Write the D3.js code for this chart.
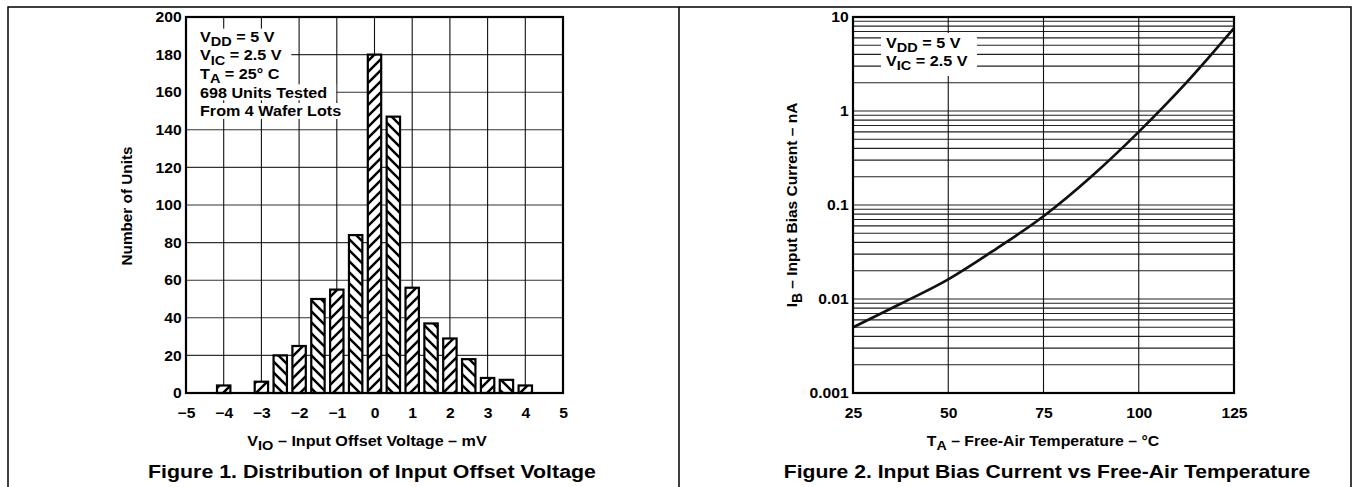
<!DOCTYPE html>
<html>
<head>
<meta charset="utf-8">
<script src="https://cdn.jsdelivr.net/npm/d3@7"></script>
<style>
  body { margin: 0; background: #fff; }
  svg { display: block; }
  text { font-family: "Liberation Sans", Arial, Helvetica, sans-serif; font-weight: bold; fill: #000; }
</style>
</head>
<body>
<svg id="chart" width="1353" height="487"></svg>
<script>
// Figure 1: histogram of input offset voltage
const vioCenters = [-4, -3, -2.5, -2, -1.5, -1, -0.5, 0, 0.5, 1, 1.5, 2, 2.5, 3, 3.5, 4];
const unitCounts = [4, 6, 20, 25, 50, 55, 84, 180, 147, 56, 37, 29, 18, 8, 7, 4];
const vioTicks = [-5, -4, -3, -2, -1, 0, 1, 2, 3, 4, 5];
const unitTicks = [0, 20, 40, 60, 80, 100, 120, 140, 160, 180, 200];

// Figure 2: input bias current vs temperature
const tempC = [25, 37.5, 50, 62.5, 75, 87.5, 100, 112.5, 125];
const biasNA = [0.005, 0.0089, 0.0162, 0.034, 0.076, 0.2, 0.6, 2.0, 7.6];
const tempTicks = [25, 50, 75, 100, 125];
const biasTicks = [0.001, 0.01, 0.1, 1, 10];
const biasTickLabels = ["0.001", "0.01", "0.1", "1", "10"];

const SX = 1.13; // glyphs in the original are a bit wider than Arial
const svg = d3.select("#chart");
const defs = svg.append("defs");

// outer panel frame
svg.append("path")
  .attr("d", "M8,487V7H1351V487M679,7V487")
  .attr("fill", "none")
  .attr("stroke", "#000")
  .attr("stroke-width", 1.5);

// text with optional subscripts, parts = [[str, isSub], ...]
function richText(parent, x, y, parts, size, anchor, rotate) {
  const g = parent.append("g")
    .attr("transform", `translate(${x},${y})` + (rotate ? " rotate(-90)" : ` scale(${SX},1)`));
  const t = g.append("text")
    .attr("text-anchor", anchor || "start")
    .style("font-size", size + "px");
  let shifted = false;
  parts.forEach(([str, sub]) => {
    const ts = t.append("tspan").text(str);
    if (sub && !shifted) { ts.attr("dy", size * 0.3).style("font-size", (size * 0.9) + "px"); shifted = true; }
    else if (!sub && shifted) { ts.attr("dy", -size * 0.3); shifted = false; }
  });
  return { g, t };
}

function hatch(id, up) {
  const s = 11;
  const p = defs.append("pattern")
    .attr("id", id)
    .attr("patternUnits", "userSpaceOnUse")
    .attr("width", s)
    .attr("height", s);
  p.append("rect").attr("width", s).attr("height", s).attr("fill", "#fff");
  const d = up
    ? `M-1,${s + 1}L${s + 1},-1M-2,2L2,-2M${s - 2},${s + 2}L${s + 2},${s - 2}`
    : `M-1,-1L${s + 1},${s + 1}M${s - 2},-2L${s + 2},2M-2,${s - 2}L2,${s + 2}`;
  p.append("path").attr("d", d).attr("stroke", "#000").attr("stroke-width", 2.5);
}
hatch("hatchUp", true);
hatch("hatchDown", false);

function styleAxis(g, size) {
  g.select(".domain").remove();
  g.selectAll("text")
    .style("font-size", size + "px")
    .attr("transform", `scale(1.08,1)`);
}

// ---------------- Figure 1 ----------------
const p1 = { left: 186, right: 563, top: 17, bottom: 393 };
const x1 = d3.scaleLinear().domain([-5, 5]).range([p1.left, p1.right]);
const y1 = d3.scaleLinear().domain([0, 200]).range([p1.bottom, p1.top]);
const f1 = svg.append("g");

f1.selectAll(".hgrid")
  .data(unitTicks.slice(1, -1))
  .join("line")
  .attr("x1", p1.left).attr("x2", p1.right)
  .attr("y1", d => y1(d)).attr("y2", d => y1(d))
  .attr("stroke", "#333").attr("stroke-width", 1.1);

f1.selectAll(".vgrid")
  .data(vioTicks.slice(1, -1))
  .join("line")
  .attr("x1", d => x1(d)).attr("x2", d => x1(d))
  .attr("y1", p1.top).attr("y2", p1.bottom)
  .attr("stroke", "#111").attr("stroke-width", 1.1);

// conditions note
const note1 = [
  [["V"], ["DD", 1], [" = 5 V"]],
  [["V"], ["IC", 1], [" = 2.5 V"]],
  [["T"], ["A", 1], [" = 25° C"]],
  [["698 Units Tested"]],
  [["From 4 Wafer Lots"]]
];
note1.forEach((parts, i) => {
  const { g, t } = richText(f1, 200, 41.7 + i * 18.6, parts, 14.3, "start");
  const bb = t.node().getBBox();
  g.insert("rect", "text")
    .attr("x", (p1.left + 1 - 200) / SX)
    .attr("y", bb.y)
    .attr("width", bb.x + bb.width + 9 / SX - (p1.left + 1 - 200) / SX)
    .attr("height", bb.height)
    .attr("fill", "#fff");
});

// bars
const barW = x1(0.355) - x1(0);
f1.selectAll(".bar")
  .data(vioCenters.map((v, i) => ({ v, n: unitCounts[i] })))
  .join("rect")
  .attr("x", d => x1(d.v) - barW / 2)
  .attr("y", d => y1(d.n))
  .attr("width", barW)
  .attr("height", d => y1(0) - y1(d.n))
  .attr("fill", d => Number.isInteger(d.v) ? "url(#hatchUp)" : "url(#hatchDown)")
  .attr("stroke", "#000")
  .attr("stroke-width", 2.2);

f1.append("rect")
  .attr("x", p1.left).attr("y", p1.top)
  .attr("width", p1.right - p1.left).attr("height", p1.bottom - p1.top)
  .attr("fill", "none").attr("stroke", "#000").attr("stroke-width", 2.2);

const ax1y = f1.append("g")
  .attr("transform", `translate(${p1.left},0)`)
  .call(d3.axisLeft(y1).tickValues(unitTicks).tickSize(0).tickPadding(4));
styleAxis(ax1y, 14.5);

const ax1x = f1.append("g")
  .attr("transform", `translate(0,${p1.bottom})`)
  .call(d3.axisBottom(x1).tickValues(vioTicks).tickSize(0).tickPadding(15));
styleAxis(ax1x, 14.5);

richText(f1, 132, 206, [["Number of Units"]], 15.3, "middle", true);
richText(f1, 367, 446, [["V"], ["IO", 1], [" – Input Offset Voltage – mV"]], 14.3, "middle");
richText(f1, 372, 478, [["Figure 1. Distribution of Input Offset Voltage"]], 18.9, "middle");

// ---------------- Figure 2 ----------------
const p2 = { left: 853, right: 1234, top: 17, bottom: 393 };
const x2 = d3.scaleLinear().domain([25, 125]).range([p2.left, p2.right]);
const y2 = d3.scaleLog().domain([0.001, 10]).range([p2.bottom, p2.top]);
const f2 = svg.append("g");

const logGrid = [];
biasTicks.slice(0, -1).forEach(dec => {
  for (let k = 1; k <= 9; k++) if (!(k === 1 && dec === 0.001)) logGrid.push(k * dec);
});
f2.selectAll(".hgrid")
  .data(logGrid)
  .join("line")
  .attr("x1", p2.left).attr("x2", p2.right)
  .attr("y1", d => y2(d)).attr("y2", d => y2(d))
  .attr("stroke", "#222").attr("stroke-width", 1.1);

f2.selectAll(".vgrid")
  .data(tempTicks.slice(1, -1))
  .join("line")
  .attr("x1", d => x2(d)).attr("x2", d => x2(d))
  .attr("y1", p2.top).attr("y2", p2.bottom)
  .attr("stroke", "#111").attr("stroke-width", 1.1);

f2.append("rect")
  .attr("x", 881).attr("y", 33).attr("width", 96).attr("height", 43)
  .attr("fill", "#fff");
richText(f2, 886, 48, [["V"], ["DD", 1], [" = 5 V"]], 14.3, "start");
richText(f2, 886, 66, [["V"], ["IC", 1], [" = 2.5 V"]], 14.3, "start");

f2.append("path")
  .datum(tempC.map((t, i) => [t, biasNA[i]]))
  .attr("d", d3.line().x(d => x2(d[0])).y(d => y2(d[1])).curve(d3.curveMonotoneX))
  .attr("fill", "none")
  .attr("stroke", "#111")
  .attr("stroke-width", 2.7);

f2.append("rect")
  .attr("x", p2.left).attr("y", p2.top)
  .attr("width", p2.right - p2.left).attr("height", p2.bottom - p2.top)
  .attr("fill", "none").attr("stroke", "#000").attr("stroke-width", 2.2);

const ax2y = f2.append("g")
  .attr("transform", `translate(${p2.left},0)`)
  .call(d3.axisLeft(y2).tickValues(biasTicks).tickSize(0).tickPadding(4)
    .tickFormat((d, i) => biasTickLabels[i]));
styleAxis(ax2y, 14.5);

const ax2x = f2.append("g")
  .attr("transform", `translate(0,${p2.bottom})`)
  .call(d3.axisBottom(x2).tickValues(tempTicks).tickSize(0).tickPadding(15));
styleAxis(ax2x, 14.5);

richText(f2, 797, 205, [["I"], ["B", 1], [" – Input Bias Current – nA"]], 15.5, "middle", true);
richText(f2, 1043, 446, [["T"], ["A", 1], [" – Free-Air Temperature – °C"]], 14, "middle");
richText(f2, 1047, 478, [["Figure 2. Input Bias Current vs Free-Air Temperature"]], 18.7, "middle");
</script>
</body>
</html>
